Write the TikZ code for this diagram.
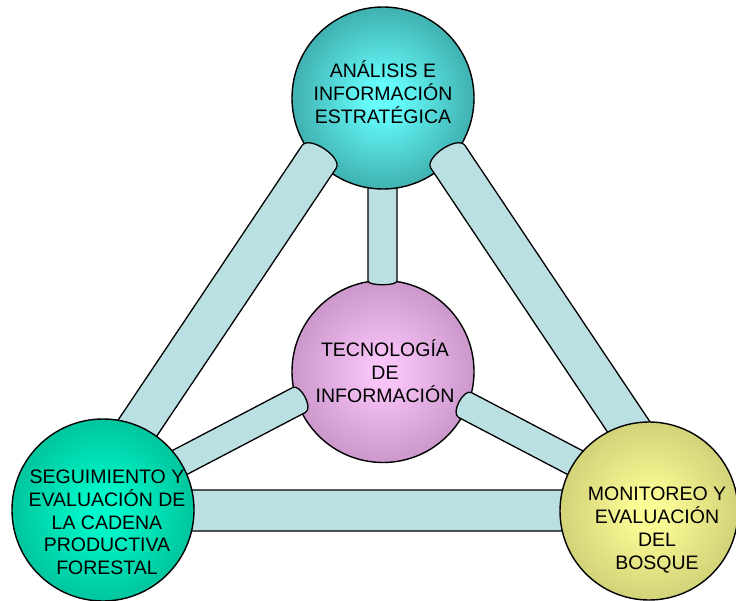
\documentclass[tikz,border=0pt]{standalone}
\usepackage{fontspec}
\setmainfont{Liberation Sans}
\usetikzlibrary{calc}
\definecolor{tubefill}{RGB}{187,224,227}
\definecolor{anaIn}{RGB}{102,252,252}
\definecolor{anaMid}{RGB}{66,180,180}
\definecolor{anaOut}{RGB}{50,142,142}
\definecolor{tecIn}{RGB}{248,196,248}
\definecolor{tecMid}{RGB}{206,154,206}
\definecolor{tecOut}{RGB}{172,124,172}
\definecolor{segIn}{RGB}{0,250,204}
\definecolor{segMid}{RGB}{0,200,160}
\definecolor{segOut}{RGB}{0,158,124}
\definecolor{monIn}{RGB}{252,252,150}
\definecolor{monMid}{RGB}{212,212,122}
\definecolor{monOut}{RGB}{172,172,98}
\pgfdeclareradialshading{anaS}{\pgfpoint{0bp}{0bp}}{color(0bp)=(anaIn); color(4bp)=(anaIn); color(24bp)=(anaMid); color(50bp)=(anaOut)}
\pgfdeclareradialshading{tecS}{\pgfpoint{0bp}{0bp}}{color(0bp)=(tecIn); color(4bp)=(tecIn); color(24bp)=(tecMid); color(50bp)=(tecOut)}
\pgfdeclareradialshading{segS}{\pgfpoint{0bp}{0bp}}{color(0bp)=(segIn); color(4bp)=(segIn); color(24bp)=(segMid); color(50bp)=(segOut)}
\pgfdeclareradialshading{monS}{\pgfpoint{0bp}{0bp}}{color(0bp)=(monIn); color(4bp)=(monIn); color(24bp)=(monMid); color(50bp)=(monOut)}
% tube from #1 (start) to #2 (end), half width #3, cap control offsets #4 (start) and #5 (end)
\newcommand\tube[5]{%
  \coordinate (tA) at (#1);
  \coordinate (tB) at (#2);
  \coordinate (qA) at ($(tA)!-#4!(tB)$);
  \coordinate (qB) at ($(tB)!-#5!(tA)$);
  \draw[tubestyle]
    ($(tA)!#3!-90:(tB)$) -- ($(tB)!#3!90:(tA)$)
    .. controls ($(qB)!#3!90:(tA)$) and ($(qB)!#3!-90:(tA)$) .. ($(tB)!#3!-90:(tA)$)
    -- ($(tA)!#3!90:(tB)$)
    .. controls ($(qA)!#3!90:(tB)$) and ($(qA)!#3!-90:(tB)$) .. cycle;
}
\begin{document}
\begin{tikzpicture}[x=1bp,y=-1bp,
  ball/.style={circle,draw=black,line width=1.4bp,minimum size=182bp,inner sep=0pt},
  tubestyle/.style={draw=black,fill=tubefill,line width=1.3bp,line join=round},
  txt/.style={align=center,inner sep=0pt,font=\fontsize{19.5bp}{22.7bp}\selectfont}]
\useasboundingbox (0,0) rectangle (736,601);
% central circle
\node[ball,shading=tecS] (tec) at (383,371.5) {};
% vertical tube (behind top circle)
\coordinate (v1) at ($(tec)+(-0.5,-222)$);
\coordinate (v2) at ($(tec)+(-0.5,-90.5)$);
\tube{v1}{v2}{14.5bp}{5bp}{5bp}
% top circle
\node[ball,shading=anaS] (ana) at (383,98) {};
% diagonal tubes from top circle
\coordinate (a1) at ($(ana)+(-64,59)$);
\coordinate (s1) at (106,475);
\tube{s1}{a1}{20.5bp}{12bp}{13bp}
\coordinate (a2) at ($(ana)+(65,59)$);
\coordinate (m2) at (669,487);
\tube{m2}{a2}{20.5bp}{12bp}{13bp}
% tubes from central circle
\coordinate (t4) at ($(tec)+(-84,28.5)$);
\coordinate (s4) at (150,478);
\tube{s4}{t4}{14bp}{9bp}{9bp}
\coordinate (t5) at ($(tec)+(82,33.5)$);
\coordinate (m5) at (614,483);
\tube{m5}{t5}{14bp}{9bp}{9bp}
% bottom tube
\coordinate (s6) at (150,510.5);
\coordinate (m6) at (600,510.5);
\tube{s6}{m6}{20.5bp}{9bp}{9bp}
% bottom circles
\node[ball,shading=segS] (seg) at (103,510) {};
\node[ball,shading=monS,minimum size=178bp] (mon) at (649,511) {};
% texts
\node[txt] (anaT) at ($(ana)+(0,-6)$) {ANÁLISIS E\\INFORMACIÓN\\ESTRATÉGICA};
\node[txt] (tecT) at ($(tec)+(2,-0.5)$) {TECNOLOGÍA\\DE\\INFORMACIÓN};
\node[txt] (segT) at ($(seg)+(4,12.5)$) {SEGUIMIENTO Y\\EVALUACIÓN DE\\LA CADENA\\PRODUCTIVA\\FORESTAL};
\node[txt] (monT) at ($(mon)+(8,19)$) {MONITOREO Y\\EVALUACIÓN\\DEL\\BOSQUE};
\end{tikzpicture}
\end{document}
